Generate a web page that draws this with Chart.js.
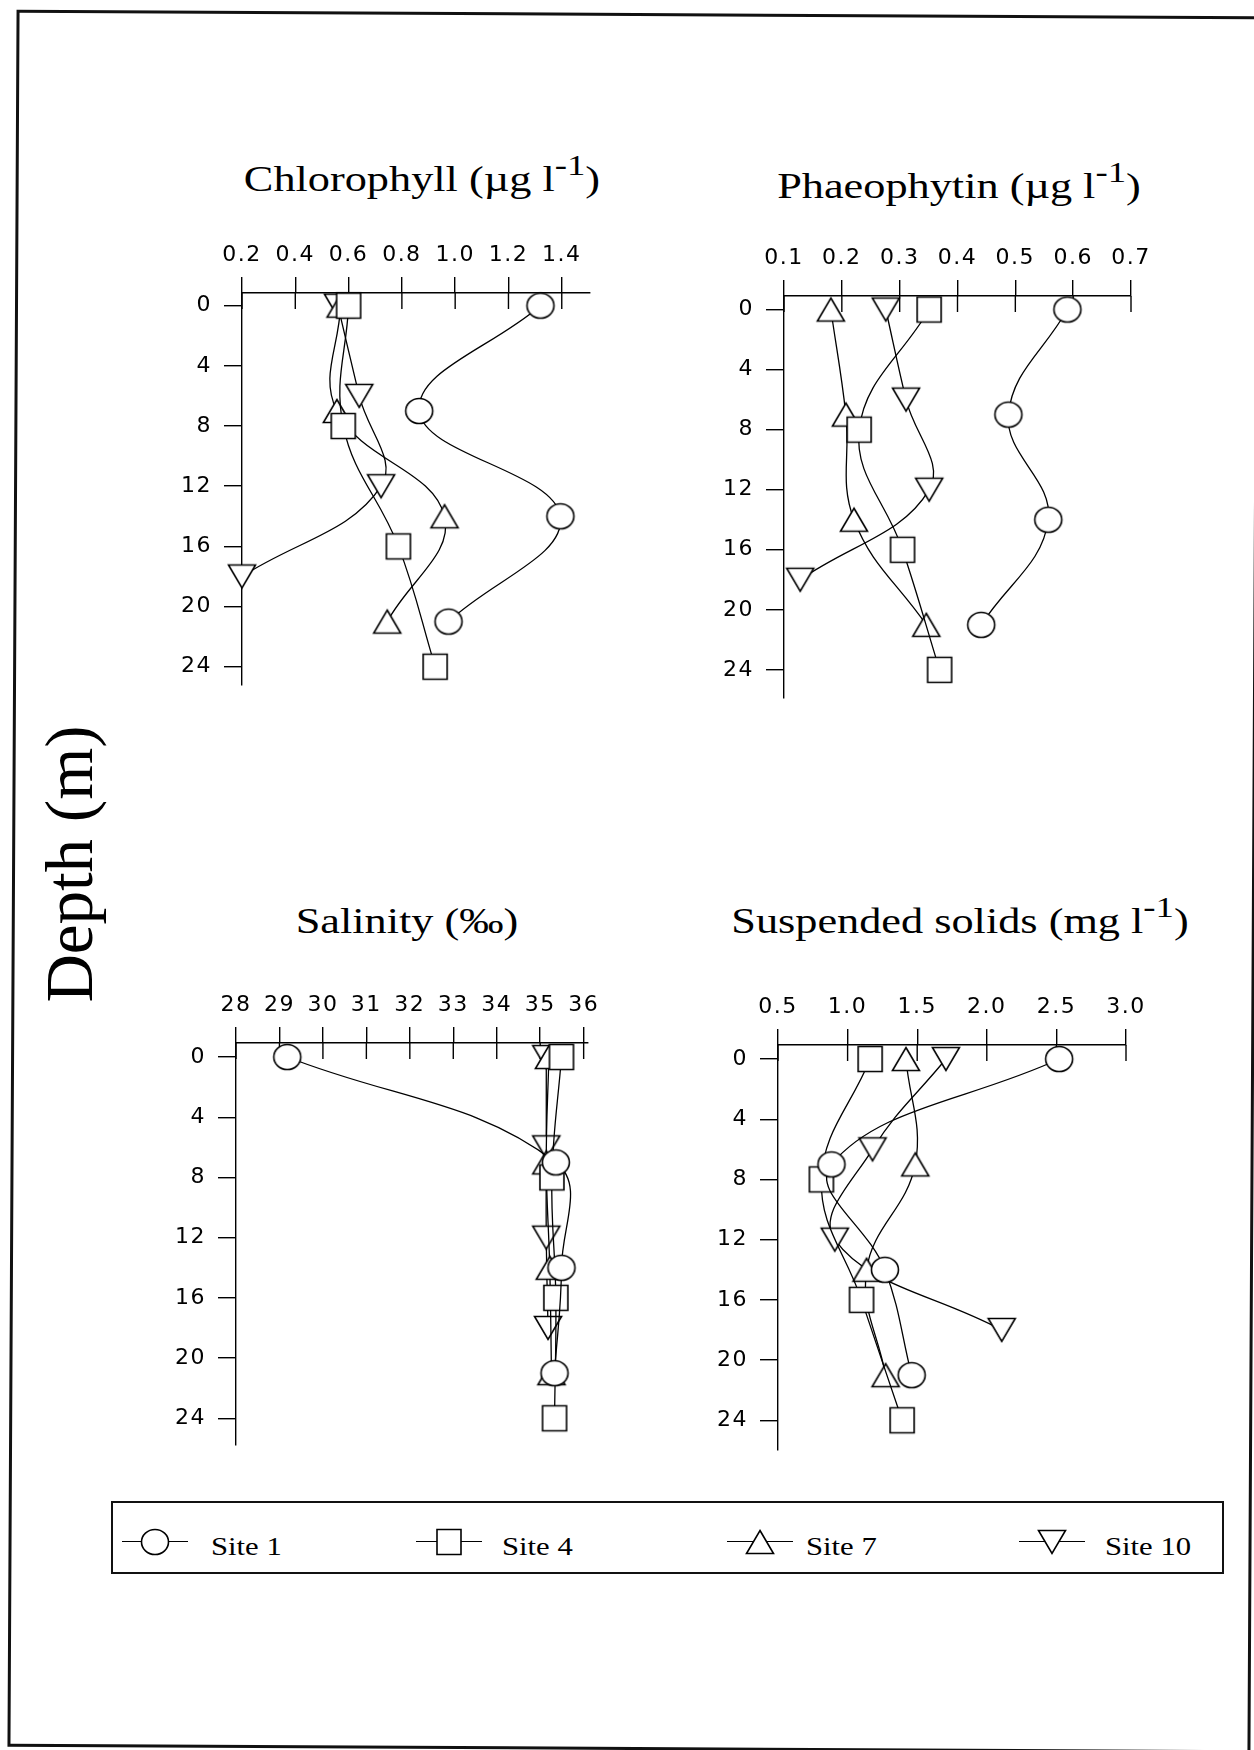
<!DOCTYPE html>
<html>
<head>
<meta charset="utf-8">
<script src="https://cdn.jsdelivr.net/npm/chart.js@4.4.0/dist/chart.umd.min.js"></script>
<style>
html, body { margin: 0; padding: 0; background: #fff; }
body { width: 1254px; height: 1750px; position: relative; overflow: hidden; font-family: "Liberation Serif", serif; color: #000; }
.frame { position: absolute; left: 12px; top: 13px; width: 1237px; height: 1731px; border: 3px solid #111; transform: rotate(0.3deg); }
canvas.panel { position: absolute; }
.title { position: absolute; font-size: 36px; line-height: 36px; white-space: nowrap; transform: translateX(-50%) scaleX(1.23); }
.sup { position: relative; top: -0.55em; font-size: 0.83em; }
.ylab { position: absolute; left: 69px; top: 864px; font-size: 67px; line-height: 67px; white-space: nowrap; transform: translate(-50%, -50%) rotate(-90deg); }
.legend { position: absolute; left: 111px; top: 1501px; width: 1109px; height: 69px; border: 2px solid #111; }
.lgline { position: absolute; width: 66px; height: 0; border-top: 1.5px solid #000; }
.lgmark { position: absolute; }
.lgtext { position: absolute; font-size: 26px; line-height: 26px; white-space: nowrap; transform: scaleX(1.18); transform-origin: left center; }
</style>
</head>
<body>
<div class="frame"></div>

<div class="title" style="left:422px; top:161px;">Chlorophyll (µg l<span class="sup">-1</span>)</div>
<div class="title" style="left:959px; top:168px;">Phaeophytin (µg l<span class="sup">-1</span>)</div>
<div class="title" style="left:407px; top:903px;">Salinity (‰)</div>
<div class="title" style="left:960px; top:903px;">Suspended solids (mg l<span class="sup">-1</span>)</div>

<div class="ylab">Depth (m)</div>

<canvas class="panel" id="chl"></canvas>
<canvas class="panel" id="phaeo"></canvas>
<canvas class="panel" id="sal"></canvas>
<canvas class="panel" id="ss"></canvas>

<div class="legend"></div>

<script>
// sampling depths (m) for each site
const depthTicks = [0, 4, 8, 12, 16, 20, 24];
const depth1 = [0, 7, 14, 21];
const depth4 = [0, 8, 16, 24];
const depth7 = [0, 7, 14, 21];
const depth10 = [0, 6, 12, 18];

const siteNames = ['Site 1', 'Site 4', 'Site 7', 'Site 10'];

// chlorophyll, ug/l
const chlTicks = ['0.2', '0.4', '0.6', '0.8', '1.0', '1.2', '1.4'];
const chlSite1 = [1.32, 0.865, 1.395, 0.975];
const chlSite4 = [0.60, 0.58, 0.787, 0.925];
const chlSite7 = [0.57, 0.556, 0.96, 0.745];
const chlSite10 = [0.56, 0.64, 0.722, 0.2];

// phaeophytin, ug/l
const phaeoTicks = ['0.1', '0.2', '0.3', '0.4', '0.5', '0.6', '0.7'];
const phaeoSite1 = [0.59, 0.488, 0.557, 0.441];
const phaeoSite4 = [0.351, 0.23, 0.305, 0.369];
const phaeoSite7 = [0.181, 0.207, 0.221, 0.346];
const phaeoSite10 = [0.276, 0.311, 0.351, 0.128];

// salinity, per mille
const salTicks = ['28', '29', '30', '31', '32', '33', '34', '35', '36'];
const salSite1 = [29.18, 35.36, 35.49, 35.33];
const salSite4 = [35.49, 35.27, 35.36, 35.33];
const salSite7 = [35.2, 35.14, 35.22, 35.26];
const salSite10 = [35.14, 35.14, 35.14, 35.18];

// suspended solids, mg/l
const ssTicks = ['0.5', '1.0', '1.5', '2.0', '2.5', '3.0'];
const ssSite1 = [2.52, 0.884, 1.268, 1.46];
const ssSite4 = [1.162, 0.812, 1.10, 1.392];
const ssSite7 = [1.419, 1.486, 1.136, 1.273];
const ssSite10 = [1.706, 1.179, 0.908, 2.107];

const siteDepths = [depth1, depth4, depth7, depth10];
const shapes = ['circle', 'square', 'up', 'down'];

// layout of each plot area on the page
const AXIS_W = 80, AXIS_H = 60, PAD_R = 40, PAD_B = 24;
const panels = [
    { id: 'chl', ticks: chlTicks, series: [chlSite1, chlSite4, chlSite7, chlSite10],
      area: { left: 241.7, right: 590, top: 292.7, bottom: 685.3 }, xr: [0.2, 1.506], yr: [-0.84, 25.2] },
    { id: 'phaeo', ticks: phaeoTicks, series: [phaeoSite1, phaeoSite4, phaeoSite7, phaeoSite10],
      area: { left: 784, right: 1131, top: 296.3, bottom: 699.8 }, xr: [0.1, 0.7], yr: [-0.9, 25.86] },
    { id: 'sal', ticks: salTicks, series: [salSite1, salSite4, salSite7, salSite10],
      area: { left: 236, right: 588, top: 1042.8, bottom: 1446 }, xr: [28, 36.1], yr: [-0.93, 25.76] },
    { id: 'ss', ticks: ssTicks, series: [ssSite1, ssSite4, ssSite7, ssSite10],
      area: { left: 778.3, right: 1126, top: 1045.4, bottom: 1451.6 }, xr: [0.5, 3.0], yr: [-0.93, 25.96] }
];

function makeMarker(shape) {
    const c = document.createElement('canvas');
    const w = shape === 'square' ? 24 : 27;
    const h = shape === 'circle' || shape === 'square' ? 25 : 23;
    c.width = 2 * Math.ceil((w + 4) / 2);
    c.height = 2 * Math.ceil((h + 4) / 2);
    const g = c.getContext('2d');
    const cx = c.width / 2, cy = c.height / 2;
    g.lineWidth = 1.6;
    g.strokeStyle = '#000';
    g.fillStyle = '#fff';
    g.beginPath();
    if (shape === 'circle') {
        g.ellipse(cx, cy, w / 2, h / 2, 0, 0, Math.PI * 2);
    } else if (shape === 'square') {
        g.rect(cx - w / 2, cy - h / 2, w, h);
    } else if (shape === 'up') {
        g.moveTo(cx, cy - h / 2);
        g.lineTo(cx + w / 2, cy + h / 2);
        g.lineTo(cx - w / 2, cy + h / 2);
        g.closePath();
    } else {
        g.moveTo(cx - w / 2, cy - h / 2);
        g.lineTo(cx + w / 2, cy - h / 2);
        g.lineTo(cx, cy + h / 2);
        g.closePath();
    }
    g.fill();
    g.stroke();
    return c;
}

// tick marks that cross the top axis line
const crossTicks = {
    id: 'crossTicks',
    beforeDraw(chart) {
        chart.ctx.letterSpacing = '1.5px';
    },
    beforeDatasetsDraw(chart) {
        const { ctx, chartArea, scales } = chart;
        ctx.save();
        ctx.strokeStyle = '#000';
        ctx.lineWidth = 1.4;
        scales.x.ticks.forEach(t => {
            const px = scales.x.getPixelForValue(t.value);
            ctx.beginPath();
            ctx.moveTo(px, chartArea.top);
            ctx.lineTo(px, chartArea.top + 16);
            ctx.stroke();
        });
        ctx.restore();
    }
};

const tickFont = { family: 'DejaVu Sans', size: 22 };

panels.forEach(p => {
    const cv = document.getElementById(p.id);
    const a = p.area;
    cv.width = Math.round(AXIS_W + (a.right - a.left) + PAD_R);
    cv.height = Math.round(AXIS_H + (a.bottom - a.top) + PAD_B);
    cv.style.left = (a.left - AXIS_W) + 'px';
    cv.style.top = (a.top - AXIS_H) + 'px';

    const datasets = p.series.map((vals, i) => ({
        label: siteNames[i],
        data: vals.map((v, j) => ({ x: v, y: siteDepths[i][j] })),
        showLine: true,
        borderColor: '#000',
        borderWidth: 1.3,
        tension: 0.4,
        pointStyle: makeMarker(shapes[i]),
        pointRadius: 13,
        clip: false
    }));

    new Chart(cv, {
        type: 'scatter',
        data: { datasets },
        options: {
            responsive: false,
            animation: false,
            devicePixelRatio: 1,
            layout: { padding: { left: 0, top: 0, right: PAD_R, bottom: PAD_B } },
            plugins: { legend: { display: false }, tooltip: { enabled: false } },
            scales: {
                x: {
                    type: 'linear',
                    position: 'top',
                    min: p.xr[0],
                    max: p.xr[1],
                    afterFit: s => { s.height = AXIS_H; },
                    afterBuildTicks: s => { s.ticks = p.ticks.map(t => ({ value: Number(t) })); },
                    ticks: {
                        callback: (v, i) => p.ticks[i],
                        font: tickFont,
                        color: '#000',
                        padding: 9,
                        maxRotation: 0,
                        autoSkip: false
                    },
                    grid: { drawOnChartArea: false, tickLength: 16, color: '#000', lineWidth: 1.4 },
                    border: { display: true, color: '#000', width: 1.4 }
                },
                y: {
                    type: 'linear',
                    reverse: true,
                    min: p.yr[0],
                    max: p.yr[1],
                    afterFit: s => { s.width = AXIS_W; },
                    afterBuildTicks: s => { s.ticks = depthTicks.map(v => ({ value: v })); },
                    ticks: {
                        callback: v => String(v),
                        font: tickFont,
                        color: '#000',
                        padding: 12,
                        autoSkip: false
                    },
                    grid: { drawOnChartArea: false, tickLength: 18, color: '#000', lineWidth: 1.4 },
                    border: { display: true, color: '#000', width: 1.4 }
                }
            }
        },
        plugins: [crossTicks]
    });
});

// legend row
const legendPos = [{ x: 155, tx: 211 }, { x: 449, tx: 502 }, { x: 760, tx: 806 }, { x: 1052, tx: 1105 }];
const LG_Y = 1542, LG_BASE = 1556;
siteNames.forEach((name, i) => {
    const pos = legendPos[i];
    const line = document.createElement('div');
    line.className = 'lgline';
    line.style.left = (pos.x - 33) + 'px';
    line.style.top = (LG_Y - 1) + 'px';
    document.body.appendChild(line);

    const m = makeMarker(shapes[i]);
    m.className = 'lgmark';
    m.style.left = (pos.x - m.width / 2) + 'px';
    m.style.top = (LG_Y - m.height / 2) + 'px';
    document.body.appendChild(m);

    const t = document.createElement('div');
    t.className = 'lgtext';
    t.textContent = name;
    t.style.left = pos.tx + 'px';
    t.style.top = (LG_BASE - 21.8) + 'px';
    document.body.appendChild(t);
});
</script>
</body>
</html>
